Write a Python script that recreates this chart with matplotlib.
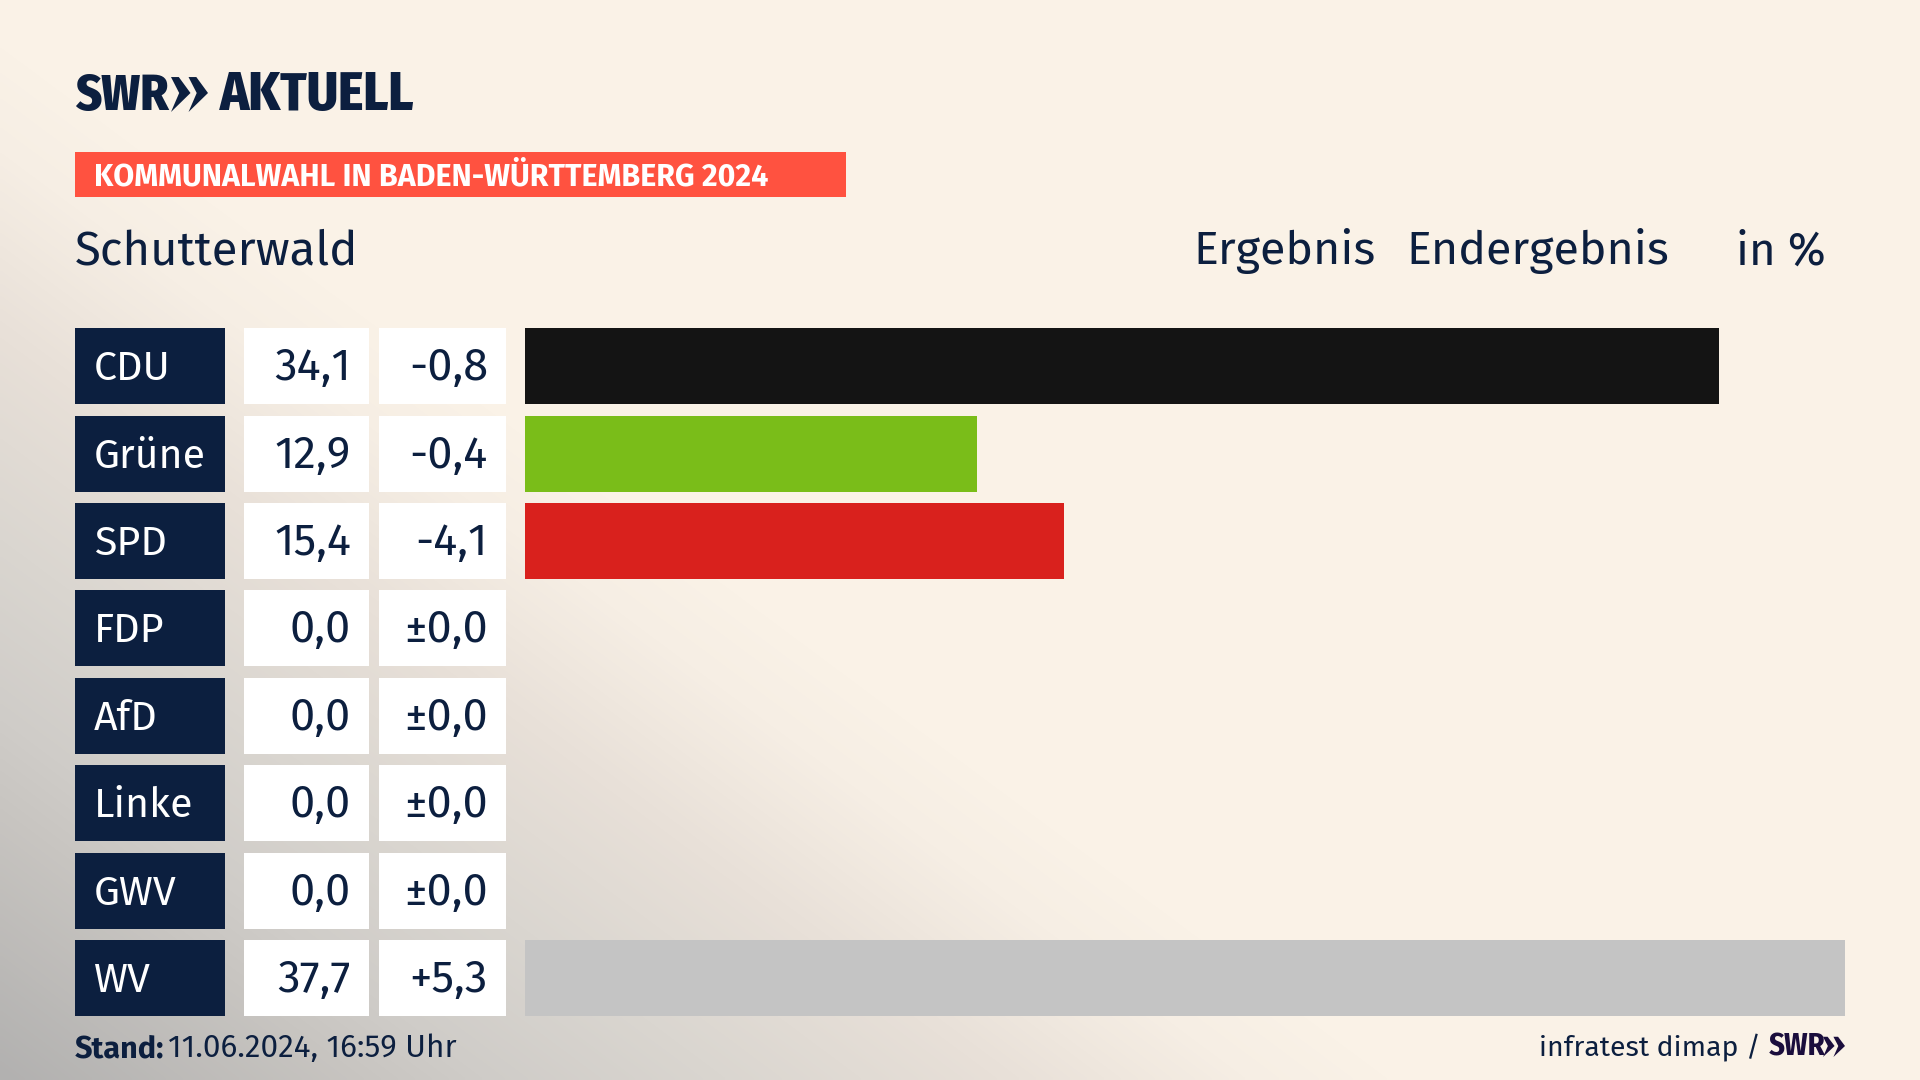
import numpy as np
import matplotlib
matplotlib.use("Agg")
import matplotlib.pyplot as plt
from matplotlib.patches import Rectangle, Polygon
from matplotlib.colors import LinearSegmentedColormap

parties = ["CDU", "Grüne", "SPD", "FDP", "AfD", "Linke", "GWV", "WV"]
results = [34.1, 12.9, 15.4, 0.0, 0.0, 0.0, 0.0, 37.7]
changes = [-0.8, -0.4, -4.1, 0.0, 0.0, 0.0, 0.0, 5.3]
bar_colors = ["#141414", "#7ABD19", "#D9211D", "#FFD500", "#0A9ADB", "#BE3075", "#C4C4C4", "#C4C4C4"]
banner = "KOMMUNALWAHL IN BADEN-WÜRTTEMBERG 2024"
place = "Schutterwald"
heads = ["Ergebnis", "Endergebnis", "in %"]

NAVY = "#0C1F3F"
W, H = 1920, 1080
TOP, PITCH, ROW_H = 328.2, 87.42, 76
BODY = ["Fira Sans", "Noto Sans", "DejaVu Sans"]
COND = ["Fira Sans Condensed", "Roboto", "DejaVu Sans"]

fig = plt.figure(figsize=(19.2, 10.8), dpi=100)
bg = fig.add_axes([0, 0, 1, 1], zorder=0)

# background wash: diagonal, grey in the bottom-left corner
xx, yy = np.meshgrid(np.linspace(0, W, 480), np.linspace(0, H, 270))
d = xx / 1450.0 + (H - yy) / 1080.0
stops = [(0, "#B2B1B0"), (.25, "#C8C5C1"), (.33, "#CFCCC8"), (.5, "#DAD6D0"),
         (.69, "#E8E0D8"), (.86, "#F6EEE4"), (.96, "#FAF2E7"), (1, "#FAF2E7")]
cmap = LinearSegmentedColormap.from_list("wash", stops)
bg.imshow(d, extent=(0, W, H, 0), cmap=cmap, vmin=0, vmax=1, aspect="auto", interpolation="bilinear")
bg.set_xlim(0, W); bg.set_ylim(H, 0); bg.axis("off")

def txt(x, y, s, size, color=NAVY, ha="left", family=BODY, weight="normal"):
    bg.text(x, y, s, fontsize=size, color=color, ha=ha, va="baseline", family=family, weight=weight)

def chevrons(x0, x1, y0, y1, color):
    n = (x1 - x0) / 1.9
    mid = (y0 + y1) / 2
    h = y1 - y0
    for off in (0, .9 * n):
        pts = [(x0 + off, y0 + .08 * h), (x0 + off + .4 * n, y0 + .08 * h), (x0 + off + n, mid),
               (x0 + off, y1), (x0 + off + .42 * n, mid)]
        bg.add_patch(Polygon(pts, closed=True, fc=color, ec="none"))

# header
txt(75, 110, "SWR", 36, family=COND, weight=800)
chevrons(171, 208, 74, 112, NAVY)
txt(220, 110, "AKTUELL", 38.5, family=COND, weight=800)
bg.add_patch(Rectangle((75, 152), 771, 45, fc="#FF5240", ec="none"))
txt(94, 185, banner, 21.9, color="white", weight="bold")
txt(75, 264.5, place, 34)
txt(1193, 264.5, heads[0], 33.6)
txt(1406, 264.5, heads[1], 33.6)
txt(1826, 264.5, heads[2], 33, ha="right")

def de(v):
    return f"{v:.1f}".replace(".", ",")

def signed(v):
    if v == 0:
        return "±" + de(0.0)
    return ("+" if v > 0 else "") + de(v)

tops = np.round(TOP + np.arange(len(parties)) * PITCH)

# table cells
for top, p, r, c in zip(tops, parties, results, changes):
    bg.add_patch(Rectangle((75, top), 150, ROW_H, fc=NAVY, ec="none"))
    bg.add_patch(Rectangle((244, top), 125, ROW_H, fc="white", ec="none"))
    bg.add_patch(Rectangle((379, top), 127, ROW_H, fc="white", ec="none"))
    base = top + 52
    txt(94, base, p, 29.6, color="white")
    txt(351, base, de(r), 32.5, ha="right")
    txt(488, base, signed(c), 32.5, ha="right")

# bars
ax = fig.add_axes([525 / W, 0, 1320 / W, 1], zorder=1)
ax.patch.set_alpha(0)
ax.barh(tops, results, height=ROW_H, align="edge", color=bar_colors, linewidth=0)
ax.set_xlim(0, 37.7)
ax.set_ylim(H, 0)
ax.axis("off")

# footer
txt(75, 1057, "Stand:", 22, weight="bold")
txt(168, 1057, "11.06.2024, 16:59 Uhr", 22.7)
txt(1539, 1056, "infratest dimap /", 20.5)
txt(1769, 1056, "SWR", 22, color="#1B0E3D", family=COND, weight="bold")
chevrons(1823, 1845, 1035, 1057, "#1B0E3D")

fig.savefig("out.png", dpi=100)
